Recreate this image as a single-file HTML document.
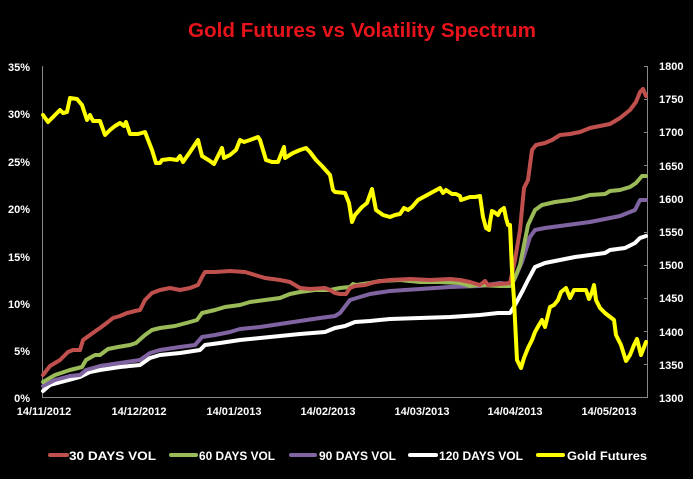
<!DOCTYPE html>
<html><head><meta charset="utf-8"><style>
html,body{margin:0;padding:0;background:#000;}
svg{display:block;}
text{font-family:"Liberation Sans",sans-serif;}
</style></head><body>
<svg width="693" height="479" viewBox="0 0 693 479" xmlns="http://www.w3.org/2000/svg">
<rect width="693" height="479" fill="#000"/>
<text x="362" y="37" text-anchor="middle" font-size="20" font-weight="bold" fill="#e8141b" textLength="348" lengthAdjust="spacingAndGlyphs">Gold Futures vs Volatility Spectrum</text>
<g stroke="#888" stroke-width="1" fill="none">
<line x1="42.5" y1="66" x2="42.5" y2="398"/>
<line x1="42" y1="397.5" x2="647" y2="397.5"/>
<line x1="647.5" y1="66" x2="647.5" y2="398"/>
<line x1="644" y1="66.5" x2="647" y2="66.5"/><line x1="644" y1="99.5" x2="647" y2="99.5"/><line x1="644" y1="132.5" x2="647" y2="132.5"/><line x1="644" y1="165.5" x2="647" y2="165.5"/><line x1="644" y1="199.5" x2="647" y2="199.5"/><line x1="644" y1="232.5" x2="647" y2="232.5"/><line x1="644" y1="265.5" x2="647" y2="265.5"/><line x1="644" y1="298.5" x2="647" y2="298.5"/><line x1="644" y1="331.5" x2="647" y2="331.5"/><line x1="644" y1="364.5" x2="647" y2="364.5"/>
</g>
<g font-size="11" font-weight="bold" fill="#fff" text-anchor="end">
<text x="30" y="71">35%</text><text x="30" y="118">30%</text><text x="30" y="166">25%</text><text x="30" y="213">20%</text><text x="30" y="261">15%</text><text x="30" y="308">10%</text><text x="30" y="355">5%</text><text x="30" y="402">0%</text>
</g>
<g font-size="11" font-weight="bold" fill="#fff">
<text x="659" y="70">1800</text><text x="659" y="103">1750</text><text x="659" y="136">1700</text><text x="659" y="170">1650</text><text x="659" y="203">1600</text><text x="659" y="236">1550</text><text x="659" y="269">1500</text><text x="659" y="302">1450</text><text x="659" y="336">1400</text><text x="659" y="369">1350</text><text x="659" y="402">1300</text>
</g>
<g font-size="11" font-weight="bold" fill="#fff" text-anchor="middle">
<text x="44" y="415">14/11/2012</text><text x="139" y="415">14/12/2012</text><text x="234" y="415">14/01/2013</text><text x="328" y="415">14/02/2013</text><text x="422" y="415">14/03/2013</text><text x="515" y="415">14/04/2013</text><text x="609" y="415">14/05/2013</text>
</g>
<g fill="none" stroke-width="4" stroke-linejoin="round" stroke-linecap="round">
<polyline stroke="#fff" points="43,391 50,385 65,381 80,377 90,372 100,370 120,367 140,365 150,358 160,355 180,353 200,350 205,345 220,343 240,340 270,337 300,334 325,332 335,328 345,326 355,322 370,321 390,319 420,318 450,317 480,315 498,313 510,313 515,305 523,290 528,280 535,267 545,263 560,260 575,257 590,255 605,253 610,250 625,248 635,243 640,238 646,236"/>
<polyline stroke="#8064a2" points="43,386 55,380 70,376 80,375 86,370 100,366 120,363 140,360 150,353 160,350 180,347 195,345 202,337 215,335 230,332 240,329 260,327 280,324 300,321 320,318 335,316 340,313 350,300 360,297 370,294 390,291 420,289 450,287 480,286 500,283 510,284 515,278 522,262 530,237 535,230 545,228 560,226 575,224 590,222 605,219 620,216 635,210 640,200 646,200"/>
<polyline stroke="#9bbb59" points="43,382 55,375 70,370 82,367 86,360 95,355 100,355 108,349 118,347 130,345 136,343 145,335 152,330 160,328 175,326 190,322 197,320 202,313 215,310 225,307 240,305 250,302 265,300 280,298 290,294 300,292 315,290 330,290 340,288 350,287 353,284 356,285 370,283 380,281 400,280 420,282 440,282 460,283 470,286 478,285 500,286 510,286 514,280 520,265 528,225 535,210 542,205 555,202 570,200 580,198 590,195 605,194 610,191 620,190 630,187 636,183 642,176 646,176"/>
<polyline stroke="#c0504d" points="43,375 50,366 60,360 68,352 73,350 80,350 83,340 90,335 97,330 100,328 108,322 113,318 120,316 127,313 135,311 140,310 145,300 152,293 160,290 170,288 180,290 190,288 198,285 202,277 205,272 215,272 230,271 245,272 255,275 265,278 280,280 290,282 300,288 310,289 325,288 330,290 335,293 340,294 346,294 350,288 355,286 365,285 375,282 390,280 410,279 430,280 450,279 460,280 470,282 480,285 485,281 488,285 500,284 510,283 515,260 520,230 524,188 528,180 532,150 536,145 545,143 552,140 560,135 570,134 580,132 590,128 600,126 610,124 620,118 630,110 636,102 640,92 643,89 646,96"/>
<polyline stroke="#ffff00" points="43,115 48,122 55,115 60,110 63,113 67,112 70,98 77,99 82,105 87,120 90,115 93,121 100,121 105,135 110,130 115,126 120,123 124,126 126,122 130,134 138,134 145,132 152,150 156,163 160,163 162,160 170,159 177,160 180,156 183,162 190,152 198,140 202,156 210,161 214,164 218,156 220,152 222,148 224,158 230,155 236,150 240,140 244,142 250,140 258,137 260,140 266,160 272,162 278,162 284,147 285,158 293,153 300,150 306,148 310,152 316,160 322,166 330,175 333,190 335,192 345,193 349,203 352,222 355,215 362,207 367,203 372,189 376,210 383,215 390,217 395,215 400,214 404,208 408,210 412,207 418,200 440,188 443,193 446,190 452,194 456,194 460,196 461,200 464,199 470,197 475,197 480,196 483,217 486,228 489,230 490,222 492,211 494,212 498,215 500,211 504,208 506,218 508,225 510,225 512,270 514,300 517,360 521,368 524,358 528,348 532,340 535,332 539,325 542,320 545,327 550,307 554,305 558,300 561,292 566,288 570,298 574,290 580,290 586,290 589,299 592,292 594,285 596,300 600,308 605,313 614,320 616,335 621,345 626,361 630,355 634,345 637,339 641,355 646,342"/>
</g>
<g stroke-width="4" stroke-linecap="round">
<line x1="50" y1="455" x2="67" y2="455" stroke="#c0504d"/>
<line x1="171" y1="455" x2="196" y2="455" stroke="#9bbb59"/>
<line x1="291" y1="455" x2="315" y2="455" stroke="#8064a2"/>
<line x1="410" y1="455" x2="436" y2="455" stroke="#fff"/>
<line x1="538" y1="455" x2="563" y2="455" stroke="#ffff00"/>
</g>
<g font-size="12" font-weight="bold" fill="#fff">
<text x="69" y="460" textLength="87" lengthAdjust="spacingAndGlyphs">30 DAYS VOL</text>
<text x="199" y="460" textLength="76" lengthAdjust="spacingAndGlyphs">60 DAYS VOL</text>
<text x="319" y="460" textLength="77" lengthAdjust="spacingAndGlyphs">90 DAYS VOL</text>
<text x="439" y="460" textLength="84" lengthAdjust="spacingAndGlyphs">120 DAYS VOL</text>
<text x="567" y="460" textLength="80" lengthAdjust="spacingAndGlyphs">Gold Futures</text>
</g>
</svg>
</body></html>
